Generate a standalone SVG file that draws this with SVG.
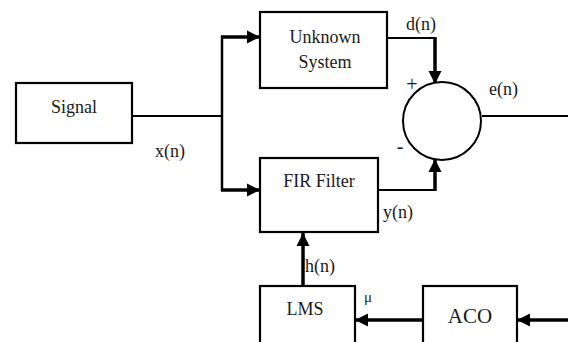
<svg xmlns="http://www.w3.org/2000/svg" width="568" height="342" viewBox="0 0 568 342">
<style>
.box{fill:#fff;stroke:#000;stroke-width:2.2}
.t{font-family:"Liberation Serif","DejaVu Serif","Times New Roman",serif;font-size:18px;fill:#1a1a1a}
.c{text-anchor:middle}
.thin{fill:none;stroke:#000;stroke-width:2}
.thick{fill:none;stroke:#000;stroke-width:3.5}
</style>
<defs>
<marker id="ah" markerUnits="userSpaceOnUse" markerWidth="14" markerHeight="14" refX="13" refY="7" orient="auto">
<path d="M0,0.5 L13,7 L0,13.5 z" fill="#000"/>
</marker>
</defs>
<rect width="568" height="342" fill="#fff"/>
<g id="connectors">
<line class="thin" x1="132" y1="116" x2="223" y2="116"/>
<line class="thin" x1="222" y1="36" x2="222" y2="191" style="stroke-width:2.5"/>
<line class="thick" x1="221" y1="37" x2="260" y2="37" marker-end="url(#ah)"/>
<line class="thick" x1="221" y1="190" x2="260" y2="190" marker-end="url(#ah)"/>
<line class="thin" x1="388" y1="38" x2="436" y2="38"/>
<line class="thick" x1="435" y1="37" x2="435" y2="84" marker-end="url(#ah)"/>
<line class="thin" x1="378" y1="190" x2="436" y2="190"/>
<line class="thick" x1="435" y1="191" x2="435" y2="159" marker-end="url(#ah)"/>
<line class="thin" x1="482" y1="116" x2="568" y2="116"/>
<line class="thick" x1="303" y1="286" x2="303" y2="233" marker-end="url(#ah)"/>
<line class="thick" x1="423" y1="320" x2="355" y2="320" marker-end="url(#ah)"/>
<line class="thick" x1="568" y1="320" x2="517" y2="320" marker-end="url(#ah)"/>
</g>
<g id="signal">
<rect class="box" x="16" y="83" width="116" height="60"/>
<text class="t c" x="74" y="113">Signal</text>
</g>
<g id="unknown">
<rect class="box" x="260" y="12" width="127" height="76"/>
<text class="t c" x="325" y="43">Unknown</text>
<text class="t c" x="325" y="68">System</text>
</g>
<g id="sum">
<circle cx="442" cy="121" r="39" fill="#fff" stroke="#000" stroke-width="2"/>
</g>
<g id="fir">
<rect class="box" x="260" y="158" width="118" height="74"/>
<text class="t c" x="319" y="187">FIR Filter</text>
</g>
<g id="lms">
<rect class="box" x="260" y="286" width="95" height="70"/>
<text class="t c" x="305" y="315">LMS</text>
</g>
<g id="aco">
<rect class="box" x="423" y="286" width="94" height="70"/>
<text class="t c" x="470" y="323" style="font-size:21px">ACO</text>
</g>
<g id="labels">
<text class="t" x="155" y="157">x(n)</text>
<text class="t" x="406" y="30">d(n)</text>
<text class="t c" x="412" y="91" style="font-size:20px">+</text>
<text class="t" x="489" y="95">e(n)</text>
<text class="t c" x="400" y="153" style="font-size:20px">-</text>
<text class="t" x="383" y="218">y(n)</text>
<text class="t" x="305" y="272">h(n)</text>
<text class="t" x="364" y="302" style="font-size:15px">μ</text>
</g>
</svg>
